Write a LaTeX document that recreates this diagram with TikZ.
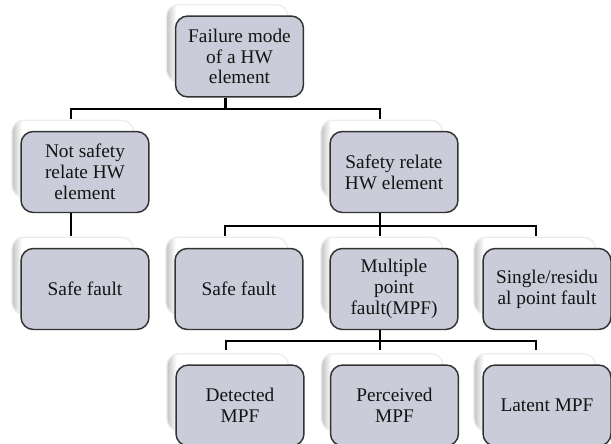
\documentclass[tikz,border=0pt]{standalone}
\usepackage{fontspec}
\setmainfont{Liberation Serif}
\usetikzlibrary{calc,shadows}
\definecolor{ink}{HTML}{141414}
\definecolor{edge}{HTML}{333333}
\definecolor{boxFill}{HTML}{CBCCD9}
\pgfdeclarehorizontalshading{cardshade}{100bp}{color(0bp)=(black!24); color(25bp)=(black!24); color(29bp)=(white); color(100bp)=(white)}

\begin{document}
\begin{tikzpicture}[
    x=0.02cm, y=-0.02cm,
    font=\fontsize{11}{11.8}\selectfont,
    faultbox/.style={
        draw=edge,
        fill=boxFill,
        line width=0.85pt,
        rounded corners=7pt,
        minimum width=2.56cm,
        minimum height=1.62cm,
        align=center,
        text=ink,
        inner sep=2pt,
        general shadow={
            shadow xshift=-0.26cm,
            shadow yshift=0.28cm,
            shadow scale=0.95,
            draw=black!7,
            shade,
            shading=cardshade,
            rounded corners=5pt
        }
    },
    link/.style={draw=black, line width=1.4pt}
]

\useasboundingbox (0,0) rectangle (611,443);

% Level 0: the failure mode itself.
\node[faultbox] (mode) at (239.5,56.5) {Failure mode\\of a HW\\element};

% Level 1: split by safety relevance.
\node[faultbox] (notSafety) at (85,172) {Not safety\\relate HW\\element};
\node[faultbox] (safety) at (394,172) {Safety relate\\HW element};

% Level 2: fault classes.
\node[faultbox] (safeLeft) at (85,289) {Safe fault};
\node[faultbox] (safeRight) at (239,289) {Safe fault};
\node[faultbox] (mpf) at (394,289) {Multiple\\point\\fault(MPF)};
\node[faultbox] (single) at (547,289) {Single/residu\\al point fault};

% Level 3: kinds of multiple point faults.
\node[faultbox] (detected) at (240,405.5) {Detected\\MPF};
\node[faultbox] (perceived) at (394.5,405.5) {Perceived\\MPF};
\node[faultbox] (latent) at (547,405.5) {Latent MPF};

% Connectors (elbow buses, offset to the card centres).
\draw[link] ($(mode.south)+(-14,0)$) -- ++(0,11) -| ($(notSafety.north)+(-14,-12)$);
\draw[link] ($(mode.south)+(-14,0)$) -- ++(0,11) -| ($(safety.north)+(-14,-12)$);

\draw[link] ($(notSafety.south)+(-14,0)$) -- ($(safeLeft.north)+(-14,-12)$);

\draw[link] ($(safety.south)+(-14,0)$) -- ++(0,13) -| ($(safeRight.north)+(-14,-12)$);
\draw[link] ($(safety.south)+(-14,0)$) -- ($(mpf.north)+(-14,-12)$);
\draw[link] ($(safety.south)+(-14,0)$) -- ++(0,13) -| ($(single.north)+(-11,-12)$);

\draw[link] ($(mpf.south)+(-14,0)$) -- ++(0,11) -| ($(detected.north)+(-14,-14)$);
\draw[link] ($(mpf.south)+(-14,0)$) -- ($(perceived.north)+(-14.5,-14)$);
\draw[link] ($(mpf.south)+(-14,0)$) -- ++(0,11) -| ($(latent.north)+(-11,-14)$);

\end{tikzpicture}
\end{document}
